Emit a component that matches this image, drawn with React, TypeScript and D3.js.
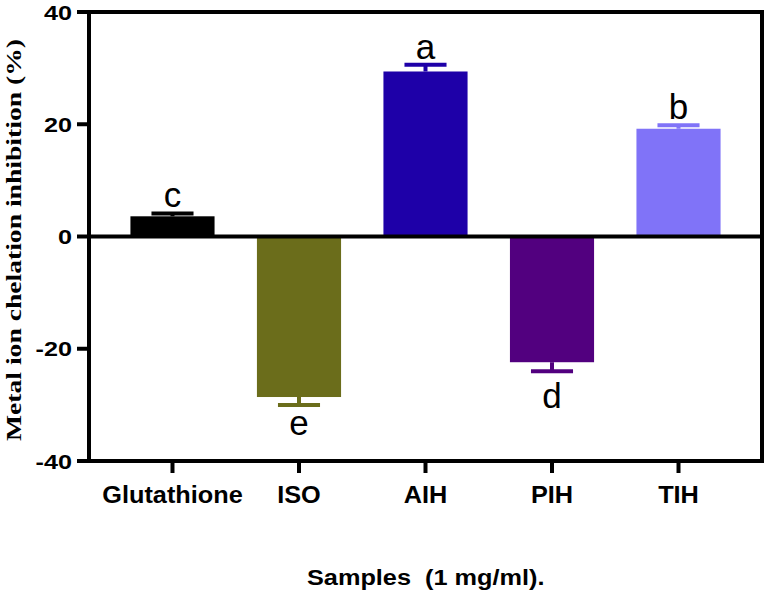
import React from "react";
import * as d3 from "d3";

const categories = ["Glutathione", "ISO", "AIH", "PIH", "TIH"];
const means = [3.6, -28.6, 29.4, -22.4, 19.2];
const errors = [0.5, 1.4, 1.2, 1.6, 0.6];
const letters = ["c", "e", "a", "d", "b"];
const barColors = ["#000000", "#6b6d1b", "#1e00a8", "#52007f", "#8073f8"];
const yTicks = [-40, -20, 0, 20, 40];
const yTitle = "Metal ion chelation inhibition (%)";
const xTitle = "Samples  (1 mg/ml).";

const W = 767;
const H = 592;
const left = 89;
const right = 762;
const top = 12;
const bottom = 461;

export default function App() {
  const x = d3.scalePoint<string>().domain(categories).range([left, right]).padding(0.66);
  const step = x.step();
  const barW = step * 0.665;
  const capW = barW * 0.5;
  const y = d3.scaleLinear().domain([-40, 40]).range([bottom, top]);
  const sans = "'Liberation Sans', Arial, sans-serif";
  const serif = "'Liberation Serif', 'Times New Roman', serif";
  const lw = 4;

  return (
    <svg
      width={W}
      height={H}
      viewBox={`0 0 ${W} ${H}`}
      style={{ position: "absolute", left: 0, top: 0, background: "#fff" }}
    >
      {/* bars */}
      {categories.map((c, i) => {
        const v = means[i];
        const cx = x(c)!;
        const y0 = y(0);
        const y1 = y(v);
        return (
          <rect
            key={"b" + c}
            x={cx - barW / 2}
            y={Math.min(y0, y1)}
            width={barW}
            height={Math.abs(y1 - y0)}
            fill={barColors[i]}
          />
        );
      })}
      {/* error bars (one-sided) */}
      {categories.map((c, i) => {
        const v = means[i];
        const e = errors[i];
        const cx = x(c)!;
        const end = v >= 0 ? v + e : v - e;
        return (
          <g key={"e" + c} stroke={barColors[i]} strokeWidth={lw}>
            <line x1={cx} x2={cx} y1={y(v)} y2={y(end)} />
            <line x1={cx - capW / 2} x2={cx + capW / 2} y1={y(end)} y2={y(end)} />
          </g>
        );
      })}
      {/* significance letters */}
      {categories.map((c, i) => {
        const v = means[i];
        const e = errors[i];
        const cx = x(c)!;
        const fs = 35;
        if (v >= 0) {
          return (
            <text key={"l" + c} x={cx} y={y(v + e) - 6} textAnchor="middle" fontFamily={sans} fontSize={fs} fill="#000">
              {letters[i]}
            </text>
          );
        }
        const asc = /[bdfhklt]/.test(letters[i]);
        const off = 11 + fs * (asc ? 0.75 : 0.55);
        return (
          <text key={"l" + c} x={cx} y={y(v - e) + off} textAnchor="middle" fontFamily={sans} fontSize={fs} fill="#000">
            {letters[i]}
          </text>
        );
      })}
      {/* zero line */}
      <line x1={left} x2={right} y1={y(0)} y2={y(0)} stroke="#000" strokeWidth={lw} />
      {/* frame */}
      <g stroke="#000" strokeWidth={lw} fill="none">
        <line x1={left - 12} x2={right + 2} y1={top} y2={top} />
        <line x1={left - 12} x2={right + 2} y1={bottom} y2={bottom} />
        <line x1={left} x2={left} y1={top - 2} y2={bottom + 2} />
        <line x1={right} x2={right} y1={top - 2} y2={bottom + 2} />
      </g>
      {/* y ticks */}
      {yTicks.map((t) => (
        <g key={"yt" + t}>
          <line x1={left - 12} x2={left} y1={y(t)} y2={y(t)} stroke="#000" strokeWidth={lw} />
          <text
            transform={`translate(72,${y(t)}) scale(1.2,1)`}
            dy="0.36em"
            textAnchor="end"
            fontFamily={sans}
            fontWeight="bold"
            fontSize={21}
            fill="#000"
          >
            {t}
          </text>
        </g>
      ))}
      {/* x ticks */}
      {categories.map((c) => (
        <g key={"xt" + c}>
          <line x1={x(c)!} x2={x(c)!} y1={bottom} y2={bottom + 12} stroke="#000" strokeWidth={lw} />
          <text
            transform={`translate(${x(c)!},503) scale(1.1,1)`}
            textAnchor="middle"
            fontFamily={sans}
            fontWeight="bold"
            fontSize={23}
            fill="#000"
          >
            {c}
          </text>
        </g>
      ))}
      {/* axis titles */}
      <text
        transform={`translate(21,240) rotate(-90)`}
        textAnchor="middle"
        fontFamily={serif}
        fontWeight="bold"
        fontSize={22}
        textLength={402}
        lengthAdjust="spacingAndGlyphs"
        fill="#000"
      >
        {yTitle}
      </text>
      <text
        transform="translate(307,585) scale(1.15,1)"
        fontFamily={sans}
        fontWeight="bold"
        fontSize={22}
        fill="#000"
        style={{ whiteSpace: "pre" }}
      >
        {xTitle}
      </text>
    </svg>
  );
}
